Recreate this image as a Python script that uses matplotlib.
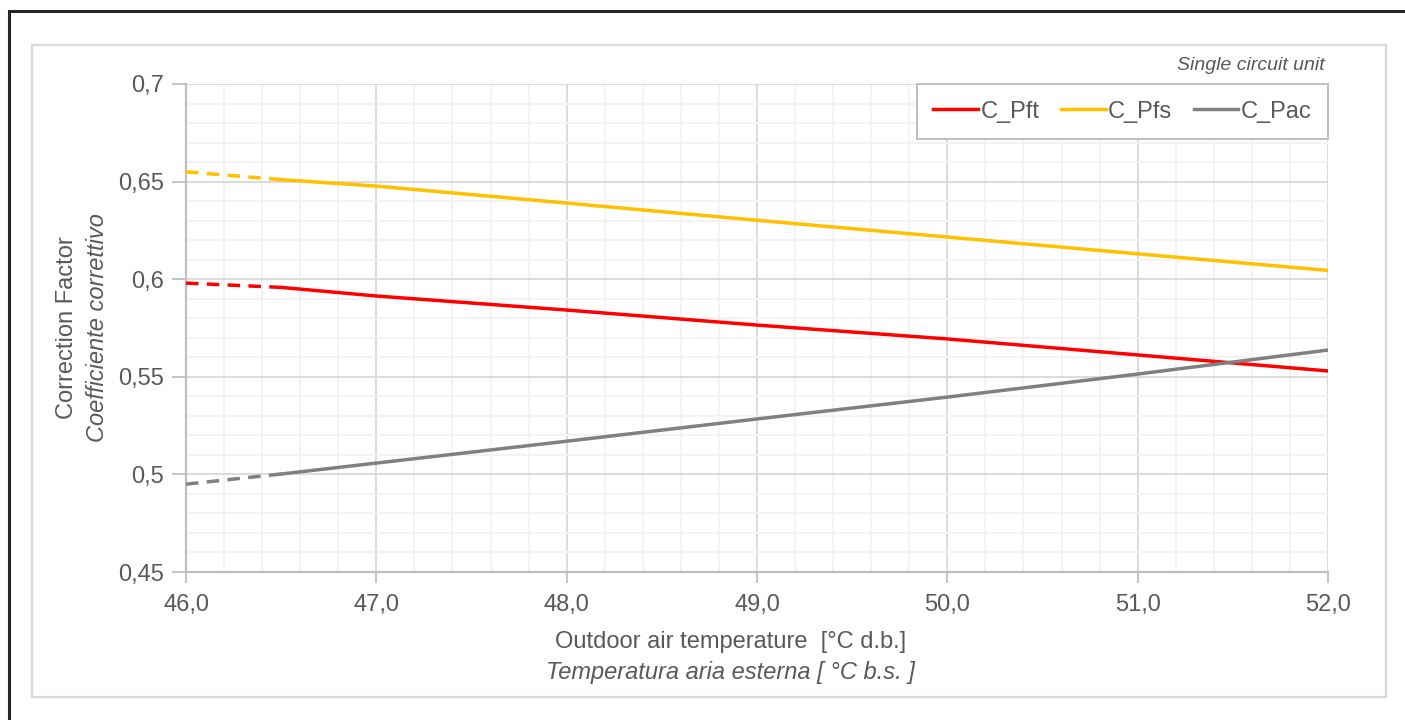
import matplotlib
matplotlib.use('Agg')
import matplotlib.pyplot as plt
from matplotlib.patches import Rectangle
from matplotlib.ticker import FuncFormatter, MultipleLocator

# ============================================
# DATA
# ============================================
temp = [46.0, 46.5, 47.0, 48.0, 49.0, 50.0, 51.0, 52.0]
c_pft = [0.598, 0.5958, 0.5914, 0.5842, 0.5765, 0.5694, 0.5612, 0.5530]
c_pfs = [0.655, 0.6510, 0.6477, 0.6390, 0.6302, 0.6216, 0.6130, 0.6045]
c_pac = [0.495, 0.5002, 0.5058, 0.5170, 0.5284, 0.5396, 0.5514, 0.5637]
n_dashed = 2   # first points (46.0 -> 46.5) are extrapolated / dashed

series = [
    ("C_Pft", c_pft, '#FF0000'),
    ("C_Pfs", c_pfs, '#FFC000'),
    ("C_Pac", c_pac, '#808080'),
]

# ============================================
# STYLE
# ============================================
plt.rcParams['font.family'] = ['Liberation Sans', 'DejaVu Sans']
txt = '#595959'
fs = 17

fig = plt.figure(figsize=(14.05, 7.2), dpi=100)
fig.patch.set_facecolor('white')

W, H = 1405.0, 720.0
ax = fig.add_axes([186 / W, 1 - 572 / H, (1328 - 186) / W, (572 - 84) / H])

# outer black frame (runs off the right / bottom edge) and inner gray box
fig.add_artist(Rectangle((9 / W, -0.1), 1.2, 1 - 11 / H + 0.1, transform=fig.transFigure,
                         fill=False, edgecolor='#262626', linewidth=2.2, zorder=0))
fig.add_artist(Rectangle((32 / W, 1 - 697 / H), (1386 - 32) / W, (697 - 45) / H,
                         transform=fig.transFigure, fill=False, edgecolor='#d9d9d9',
                         linewidth=1.6, zorder=0))

for name, vals, col in series:
    ax.plot(temp[:n_dashed], vals[:n_dashed], color=col, lw=2.5, ls=(0, (3.6, 2.4)),
            solid_capstyle='butt', zorder=3)
    ax.plot(temp[n_dashed - 1:], vals[n_dashed - 1:], color=col, lw=2.5, label=name, zorder=3)

ax.set_xlim(46, 52)
ax.set_ylim(0.45, 0.70)
ax.xaxis.set_major_locator(MultipleLocator(1))
ax.xaxis.set_minor_locator(MultipleLocator(0.2))
ax.yaxis.set_major_locator(MultipleLocator(0.05))
ax.yaxis.set_minor_locator(MultipleLocator(0.01))
ax.xaxis.set_major_formatter(FuncFormatter(lambda v, p: f'{v:.1f}'.replace('.', ',')))
ax.yaxis.set_major_formatter(FuncFormatter(lambda v, p: f'{round(v, 2):g}'.replace('.', ',')))

ax.grid(which='minor', color='#f2f2f2', lw=1.3, zorder=0)
ax.grid(which='major', color='#d9d9d9', lw=1.3, zorder=1)
ax.set_axisbelow(True)

for s in ['top', 'right']:
    ax.spines[s].set_visible(False)
for s in ['left', 'bottom']:
    ax.spines[s].set_color('#bfbfbf')
    ax.spines[s].set_linewidth(1.6)

ax.tick_params(which='major', length=8, width=1.3, color='#bfbfbf', labelsize=fs,
               labelcolor=txt)
ax.tick_params(axis='y', which='major', length=10, pad=6)
ax.tick_params(axis='x', which='major', pad=8)
ax.tick_params(which='minor', length=0)

leg = ax.legend(loc='upper right', bbox_to_anchor=(1.0, 1.0), ncol=3, frameon=True,
                fancybox=False, edgecolor='#bfbfbf', framealpha=1, fontsize=fs,
                borderaxespad=0, handlelength=1.9, handletextpad=0.1,
                columnspacing=0.9, borderpad=0.7)
leg.get_frame().set_linewidth(1.4)
for t in leg.get_texts():
    t.set_color(txt)

# labels
fig.text(1325 / W, 1 - 65 / H, 'Single circuit unit', ha='right', va='center',
         fontsize=14, style='italic', color=txt)
fig.text(731 / W, 1 - 642 / H, 'Outdoor air temperature  [°C d.b.]', ha='center',
         va='center', fontsize=fs, color=txt)
fig.text(731 / W, 1 - 673 / H, 'Temperatura aria esterna [ °C b.s. ]', ha='center',
         va='center', fontsize=fs, style='italic', color=txt)
fig.text(67 / W, 1 - 328 / H, 'Correction Factor', rotation=90, ha='center',
         va='center', fontsize=fs, color=txt)
fig.text(97 / W, 1 - 328 / H, 'Coefficiente correttivo', rotation=90, ha='center',
         va='center', fontsize=fs, style='italic', color=txt)

fig.savefig('out.png', dpi=100, facecolor='white')
